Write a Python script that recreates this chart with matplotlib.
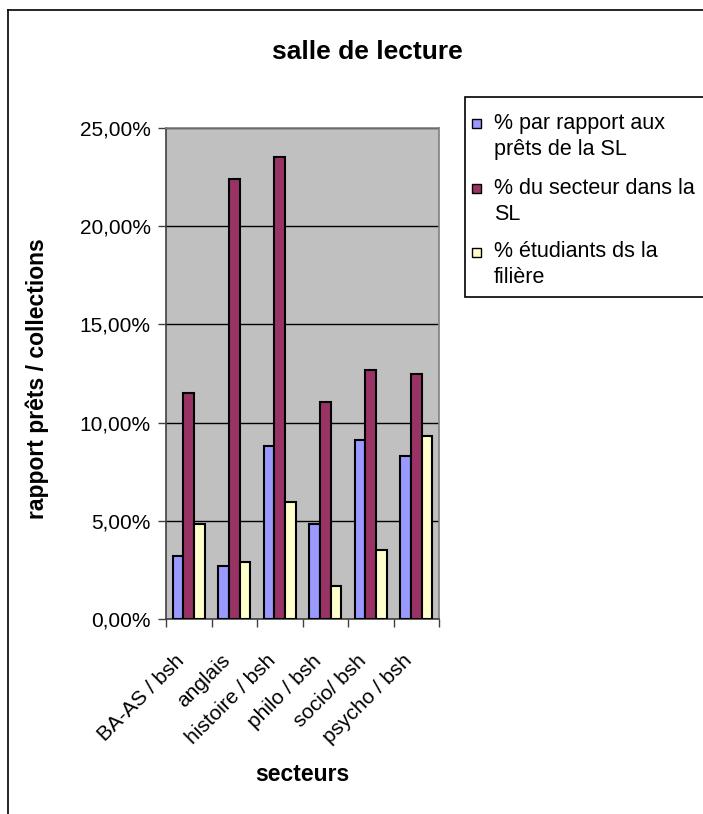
import matplotlib
matplotlib.use('Agg')
import numpy as np
import matplotlib.pyplot as plt
from matplotlib.patches import Rectangle
from matplotlib.lines import Line2D
from matplotlib.ticker import FuncFormatter, FixedLocator
from matplotlib.transforms import ScaledTranslation

plt.rcParams['font.family'] = ['Liberation Sans', 'DejaVu Sans']

# secteurs et pourcentages (salle de lecture)
secteurs = ['BA-AS / bsh', 'anglais', 'histoire / bsh', 'philo / bsh',
            'socio/ bsh', 'psycho / bsh']
pct_prets_sl = [3.22, 2.71, 8.79, 4.82, 9.11, 8.30]
pct_secteur_sl = [11.52, 22.42, 23.54, 11.05, 12.68, 12.47]
pct_etudiants = [4.82, 2.90, 5.96, 1.70, 3.51, 9.33]

serie_labels = ['% par rapport aux\nprêts de la SL',
                '% du secteur dans la\nSL',
                '% étudiants ds la\nfilière']
serie_colors = ['#9999FF', '#993366', '#FFFFCC']

W, H = 703, 814


def fx(px):
    return px / W


def fy(py):
    return 1 - py / H


fig = plt.figure(figsize=(W / 100, H / 100), dpi=100)
fig.patch.set_facecolor('white')

ax = fig.add_axes([fx(166), fy(619), fx(439) - fx(166), fy(128) - fy(619)])
ax.set_facecolor('#C0C0C0')

x = np.arange(len(secteurs))
w = 0.237
series = [pct_prets_sl, pct_secteur_sl, pct_etudiants]
for i, (vals, col) in enumerate(zip(series, serie_colors)):
    ax.bar(x + (i - 1) * w, np.array(vals) / 100, width=w, color=col,
           edgecolor='black', linewidth=1.5, zorder=3)

ax.set_xlim(-0.5, len(secteurs) - 0.5)
ax.set_ylim(0, 0.25)
ax.set_yticks(np.arange(0, 0.2501, 0.05))
ax.yaxis.set_major_formatter(
    FuncFormatter(lambda v, p: f'{v * 100:.2f}%'.replace('.', ',')))
ax.grid(axis='y', color='black', linewidth=1.0, zorder=1)
ax.set_axisbelow(True)

# catégories : étiquettes au centre, graduations aux limites
ax.set_xticks(x)
ax.set_xticklabels(secteurs, rotation=45, ha='right', va='center',
                   rotation_mode='anchor', fontsize=15)
ax.tick_params(axis='x', which='major', length=0, pad=28)
shift = ScaledTranslation(-7 / 100, 0, fig.dpi_scale_trans)
for lbl in ax.get_xticklabels():
    lbl.set_transform(lbl.get_transform() + shift)
ax.xaxis.set_minor_locator(FixedLocator(np.arange(-0.5, len(secteurs), 1)))
ax.tick_params(axis='x', which='minor', length=6, width=1, color='#404040',
               direction='out')
ax.tick_params(axis='y', length=6, width=1, color='#404040', pad=5,
               labelsize=15)

for side in ['top', 'right']:
    ax.spines[side].set_color('#808080')
    ax.spines[side].set_linewidth(1.2)
for side in ['left', 'bottom']:
    ax.spines[side].set_color('#404040')
    ax.spines[side].set_linewidth(1.2)

ax.set_xlabel('secteurs', fontsize=16.5, fontweight='bold')
ax.xaxis.set_label_coords(0.5, -(763 - 619) / (619 - 128))
ax.set_ylabel('rapport prêts / collections', fontsize=16.5, fontweight='bold')
ax.yaxis.set_label_coords(-(166 - 49) / (439 - 166), 0.49)

fig.text(fx(367), fy(52), 'salle de lecture', fontsize=19,
         fontweight='bold', ha='center', va='center')

# légende
fig.add_artist(Rectangle((fx(465), fy(297)), fx(730) - fx(465),
                         fy(97) - fy(297), transform=fig.transFigure,
                         facecolor='white', edgecolor='black', linewidth=1.2))
first_baselines = [128, 193, 257]
last_baselines = [155, 220, 283]
for lab, col, b0, b1 in zip(serie_labels, serie_colors, first_baselines,
                            last_baselines):
    fig.add_artist(Rectangle((fx(472), fy(b0)), fx(481) - fx(472),
                             fy(b0 - 9) - fy(b0), transform=fig.transFigure,
                             facecolor=col, edgecolor='black', linewidth=1))
    fig.text(fx(494), fy(b1), lab, fontsize=15.5, ha='left', va='baseline',
             linespacing=1.3)

# cadre extérieur
fig.add_artist(Line2D([fx(8), fx(8)], [0, fy(10)], transform=fig.transFigure,
                      color='black', linewidth=1.2))
fig.add_artist(Line2D([fx(8), 1], [fy(10), fy(10)], transform=fig.transFigure,
                      color='black', linewidth=1.2))

fig.savefig('out.png', dpi=100)
